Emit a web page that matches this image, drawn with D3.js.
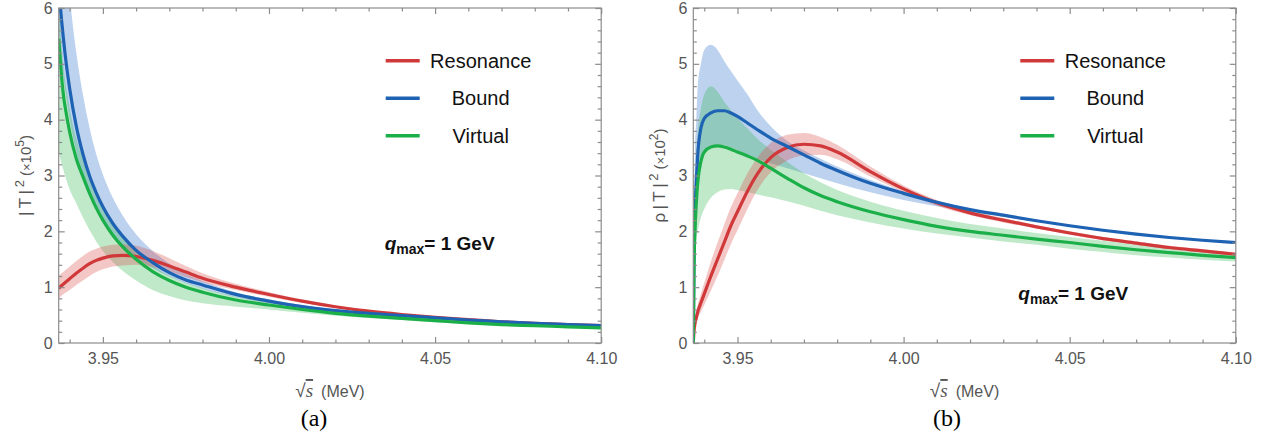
<!DOCTYPE html>
<html>
<head>
<meta charset="utf-8">
<script src="https://cdn.jsdelivr.net/npm/d3@7"></script>
<style>
  body { margin: 0; background: #fff; }
  svg { display: block; font-family: 'Liberation Sans', Arial, sans-serif; }
  .axis path { display: none; }
  .axis line { stroke: #8c8c8c; stroke-width: 1.2; }
  .axis text { fill: #555; font-size: 16px; font-family: 'Liberation Sans', Arial, sans-serif; }
</style>
</head>
<body>
<div id="chart"></div>
<script>
// sample points in sqrt(s) (GeV axis, labelled MeV in the original)
const sqrtS = [3.9367, 3.9369, 3.9372, 3.9376, 3.938, 3.939, 3.94, 3.942, 3.944, 3.946, 3.948, 3.95, 3.953, 3.956, 3.96, 3.965, 3.97, 3.975, 3.98, 3.99, 4.0, 4.01, 4.02, 4.03, 4.04, 4.05, 4.06, 4.07, 4.08, 4.09, 4.1];

// panel (a): |T|^2 (x10^5)
const aRes   = [0.98, 0.99, 1.01, 1.03, 1.05, 1.10, 1.15, 1.25, 1.34, 1.42, 1.48, 1.52, 1.56, 1.57, 1.55, 1.48, 1.38, 1.27, 1.16, 1.00, 0.87, 0.75, 0.65, 0.57, 0.51, 0.46, 0.42, 0.38, 0.35, 0.33, 0.31];
const aResLo = [0.80, 0.81, 0.83, 0.85, 0.87, 0.91, 0.95, 1.04, 1.12, 1.20, 1.27, 1.32, 1.37, 1.39, 1.40, 1.36, 1.28, 1.18, 1.09, 0.95, 0.83, 0.72, 0.63, 0.55, 0.495, 0.45, 0.41, 0.37, 0.34, 0.32, 0.30];
const aResHi = [1.20, 1.21, 1.23, 1.25, 1.27, 1.32, 1.37, 1.47, 1.56, 1.64, 1.69, 1.73, 1.76, 1.77, 1.74, 1.65, 1.52, 1.38, 1.25, 1.06, 0.91, 0.78, 0.67, 0.59, 0.525, 0.47, 0.43, 0.39, 0.36, 0.34, 0.32];
const aBnd   = [6.40, 6.24, 6.02, 5.76, 5.52, 4.99, 4.56, 3.88, 3.38, 2.99, 2.69, 2.44, 2.14, 1.91, 1.66, 1.44, 1.26, 1.13, 1.04, 0.87, 0.75, 0.65, 0.58, 0.53, 0.49, 0.45, 0.41, 0.38, 0.35, 0.33, 0.31];
const aBndLo = [5.60, 5.45, 5.25, 5.02, 4.82, 4.38, 4.00, 3.42, 3.00, 2.66, 2.40, 2.19, 1.93, 1.74, 1.53, 1.34, 1.19, 1.07, 0.97, 0.82, 0.71, 0.62, 0.56, 0.51, 0.46, 0.42, 0.39, 0.365, 0.345, 0.315, 0.30];
const aBndHi = [9.5, 9.2, 8.8, 8.3, 7.9, 7.0, 6.25, 5.2, 4.45, 3.85, 3.38, 3.02, 2.6, 2.28, 1.95, 1.65, 1.42, 1.24, 1.11, 0.91, 0.78, 0.68, 0.6, 0.545, 0.5, 0.46, 0.42, 0.385, 0.355, 0.335, 0.315];
const aVir   = [5.45, 5.28, 5.05, 4.75, 4.50, 4.10, 3.78, 3.30, 2.98, 2.68, 2.42, 2.20, 1.93, 1.72, 1.50, 1.28, 1.12, 1.00, 0.91, 0.77, 0.68, 0.60, 0.53, 0.48, 0.44, 0.40, 0.36, 0.33, 0.31, 0.29, 0.27];
const aVirLo = [3.45, 3.38, 3.30, 3.20, 3.12, 2.92, 2.75, 2.50, 2.25, 2.02, 1.82, 1.65, 1.45, 1.29, 1.12, 0.95, 0.84, 0.76, 0.71, 0.65, 0.60, 0.54, 0.49, 0.45, 0.41, 0.37, 0.34, 0.315, 0.295, 0.275, 0.26];
const aVirHi = [6.1, 5.9, 5.65, 5.3, 5.02, 4.57, 4.2, 3.66, 3.3, 2.96, 2.67, 2.42, 2.12, 1.88, 1.63, 1.39, 1.21, 1.08, 0.98, 0.83, 0.73, 0.64, 0.57, 0.51, 0.47, 0.42, 0.38, 0.35, 0.33, 0.31, 0.285];

// panel (b): rho|T|^2 (x10^2)
const bRes   = [0, 0.2, 0.35, 0.45, 0.55, 0.72, 0.88, 1.2, 1.5, 1.8, 2.1, 2.35, 2.72, 3.03, 3.32, 3.5, 3.56, 3.53, 3.42, 3.07, 2.76, 2.51, 2.33, 2.2, 2.08, 1.97, 1.87, 1.79, 1.71, 1.65, 1.59];
const bResLo = [0, 0.15, 0.27, 0.35, 0.43, 0.56, 0.68, 0.94, 1.2, 1.48, 1.77, 2.02, 2.4, 2.74, 3.06, 3.27, 3.36, 3.37, 3.29, 2.98, 2.70, 2.46, 2.29, 2.16, 2.05, 1.94, 1.84, 1.76, 1.68, 1.62, 1.56];
const bResHi = [0, 0.25, 0.43, 0.55, 0.67, 0.88, 1.08, 1.46, 1.8, 2.12, 2.43, 2.68, 3.04, 3.32, 3.58, 3.73, 3.76, 3.69, 3.55, 3.16, 2.82, 2.56, 2.37, 2.24, 2.11, 2.0, 1.9, 1.82, 1.74, 1.68, 1.62];
const bBnd   = [0, 1.5, 2.3, 2.9, 3.35, 3.85, 4.02, 4.12, 4.16, 4.16, 4.12, 4.06, 3.94, 3.82, 3.67, 3.52, 3.37, 3.22, 3.09, 2.86, 2.68, 2.52, 2.39, 2.29, 2.19, 2.10, 2.02, 1.95, 1.89, 1.84, 1.80];
const bBndLo = [0, 1.2, 1.9, 2.45, 2.85, 3.25, 3.42, 3.52, 3.55, 3.54, 3.5, 3.45, 3.37, 3.3, 3.22, 3.13, 3.04, 2.95, 2.86, 2.70, 2.56, 2.45, 2.35, 2.26, 2.17, 2.09, 2.01, 1.94, 1.88, 1.83, 1.79];
const bBndHi = [0, 2.2, 3.4, 4.0, 4.55, 5.0, 5.25, 5.34, 5.25, 5.05, 4.87, 4.7, 4.45, 4.17, 3.88, 3.62, 3.45, 3.3, 3.16, 2.92, 2.72, 2.55, 2.41, 2.30, 2.20, 2.11, 2.03, 1.96, 1.90, 1.85, 1.81];
const bVir   = [0, 1.3, 2.0, 2.5, 2.85, 3.25, 3.42, 3.51, 3.53, 3.51, 3.47, 3.42, 3.35, 3.27, 3.13, 2.95, 2.78, 2.64, 2.53, 2.35, 2.21, 2.09, 2.00, 1.93, 1.86, 1.80, 1.73, 1.67, 1.62, 1.57, 1.53];
const bVirLo = [0, 1.0, 1.6, 1.85, 2.0, 2.25, 2.4, 2.6, 2.7, 2.75, 2.76, 2.74, 2.70, 2.66, 2.61, 2.54, 2.46, 2.37, 2.29, 2.16, 2.05, 1.96, 1.89, 1.82, 1.76, 1.69, 1.63, 1.57, 1.53, 1.49, 1.46];
const bVirHi = [0, 1.8, 2.6, 3.2, 3.7, 4.2, 4.45, 4.6, 4.5, 4.32, 4.17, 4.03, 3.84, 3.66, 3.46, 3.24, 3.04, 2.88, 2.74, 2.53, 2.37, 2.24, 2.13, 2.05, 1.97, 1.9, 1.83, 1.76, 1.70, 1.65, 1.61];

const seriesNames = ['Resonance', 'Bound', 'Virtual'];
const xMajor = [3.95, 4.00, 4.05, 4.10];
const xMinor = [3.94, 3.96, 3.97, 3.98, 3.99, 4.01, 4.02, 4.03, 4.04, 4.06, 4.07, 4.08, 4.09];
const yMajor = [0, 1, 2, 3, 4, 5, 6];
const yMinor = d3.range(0, 6.01, 0.2).filter(v => Math.abs(v - Math.round(v)) > 0.01);

const lineColours = ['#d0383a', '#1d62b3', '#1aaf48'];
const bandColours = ['#d94545', '#3f7fcf', '#2db54f'];
const bandOpacity = [0.3, 0.35, 0.3];

const svg = d3.select('#chart').append('svg')
    .attr('width', 1270)
    .attr('height', 445);

let drawPanel = (opts) => {
  const pw = 542.5, ph = 335;
  const g = svg.append('g').attr('transform', 'translate(' + opts.left + ',8)');

  var x = d3.scaleLinear().domain([3.9367, 4.10]).range([0, pw]);
  var y = d3.scaleLinear().domain([0, 6]).range([ph, 0]);

  g.append('clipPath').attr('id', 'clip-' + opts.id)
    .append('rect').attr('width', pw).attr('height', ph);

  const plot = g.append('g').attr('clip-path', 'url(#clip-' + opts.id + ')');

  const area = d3.area()
      .x((d, i) => x(sqrtS[i]))
      .y0(d => y(d[0]))
      .y1(d => y(d[1]))
      .curve(d3.curveMonotoneX);
  const line = d3.line()
      .x((d, i) => x(sqrtS[i]))
      .y(d => y(d))
      .curve(d3.curveMonotoneX);

  // bands: bound first, then virtual, then resonance
  [1, 2, 0].forEach(k => {
    const s = opts.series[k];
    plot.append('path')
      .datum(s.lo.map((v, i) => [v, s.hi[i]]))
      .attr('d', area)
      .attr('fill', bandColours[k])
      .attr('fill-opacity', bandOpacity[k]);
  });

  opts.series.forEach((s, k) => {
    plot.append('path')
      .datum(s.mid)
      .attr('d', line)
      .attr('fill', 'none')
      .attr('stroke', lineColours[k])
      .attr('stroke-width', 3.2);
  });

  // frame
  g.append('rect')
    .attr('width', pw).attr('height', ph)
    .attr('fill', 'none').attr('stroke', '#8c8c8c').attr('stroke-width', 1.2);

  const fmt = d3.format('.2f');
  g.append('g').attr('class', 'axis').attr('transform', 'translate(0,' + ph + ')')
    .call(d3.axisBottom(x).tickValues(xMajor).tickSize(-6).tickSizeOuter(0).tickPadding(10).tickFormat(fmt));
  g.append('g').attr('class', 'axis').attr('transform', 'translate(0,' + ph + ')')
    .call(d3.axisBottom(x).tickValues(xMinor).tickSize(-3.5).tickSizeOuter(0).tickFormat(''));
  g.append('g').attr('class', 'axis')
    .call(d3.axisTop(x).tickValues(xMajor).tickSize(-6).tickSizeOuter(0).tickFormat(''));
  g.append('g').attr('class', 'axis')
    .call(d3.axisTop(x).tickValues(xMinor).tickSize(-3.5).tickSizeOuter(0).tickFormat(''));

  g.append('g').attr('class', 'axis')
    .call(d3.axisLeft(y).tickValues(yMajor).tickSize(-6).tickSizeOuter(0).tickPadding(6).tickFormat(d3.format('d')));
  g.append('g').attr('class', 'axis')
    .call(d3.axisLeft(y).tickValues(yMinor).tickSize(-3.5).tickSizeOuter(0).tickFormat(''));
  g.append('g').attr('class', 'axis').attr('transform', 'translate(' + pw + ',0)')
    .call(d3.axisRight(y).tickValues(yMajor).tickSize(-6).tickSizeOuter(0).tickFormat(''));
  g.append('g').attr('class', 'axis').attr('transform', 'translate(' + pw + ',0)')
    .call(d3.axisRight(y).tickValues(yMinor).tickSize(-3.5).tickSizeOuter(0).tickFormat(''));

  // y label
  const yl = g.append('text')
    .attr('transform', 'translate(-28,' + (ph / 2) + ') rotate(-90)')
    .attr('text-anchor', 'middle')
    .attr('fill', '#555')
    .attr('font-size', '17px');
  yl.append('tspan').text(opts.yPrefix + '|\u2009T\u2009|');
  yl.append('tspan').attr('dy', -7).attr('font-size', '13px').text('\u20092');
  yl.append('tspan').attr('dy', 7).attr('font-size', '15px').text(' (');
  yl.append('tspan').attr('font-size', '13px').text('\u00d7');
  yl.append('tspan').attr('font-size', '15px').text('10');
  yl.append('tspan').attr('dy', -7).attr('font-size', '12px').text(opts.yPow);
  yl.append('tspan').attr('dy', 7).attr('font-size', '15px').text(')');

  // x label
  const xl = g.append('text')
    .attr('x', pw / 2).attr('y', 389)
    .attr('text-anchor', 'middle')
    .attr('fill', '#555')
    .attr('font-size', '16px');
  xl.append('tspan').attr('font-size', '19px').text('\u221a');
  xl.append('tspan').attr('font-style', 'italic').attr('text-decoration', 'overline')
    .attr('font-family', "'Liberation Serif', serif").attr('font-size', '19px').text('s');
  xl.append('tspan').text('\u2002(MeV)');

  // legend
  seriesNames.forEach((name, k) => {
    const ly = 52.7 + k * 37.5;
    g.append('line')
      .attr('x1', 327).attr('x2', 361).attr('y1', ly).attr('y2', ly)
      .attr('stroke', lineColours[k]).attr('stroke-width', 3.5);
    g.append('text')
      .attr('x', 422).attr('y', ly + 7)
      .attr('text-anchor', 'middle')
      .attr('font-size', '20px')
      .attr('fill', '#111')
      .text(name);
  });

  // q_max note
  const q = g.append('text')
    .attr('x', opts.qx).attr('y', opts.qy)
    .attr('font-size', '19px').attr('font-weight', 'bold').attr('fill', '#111');
  q.append('tspan').attr('font-style', 'italic').text('q');
  q.append('tspan').attr('font-size', '14px').attr('dy', 4).text('max');
  q.append('tspan').attr('dy', -4).text('= 1 GeV');

  // panel tag
  svg.append('text')
    .attr('x', opts.tagX).attr('y', 426)
    .attr('text-anchor', 'middle')
    .attr('font-family', "'Liberation Serif', 'Times New Roman', serif")
    .attr('font-size', '24px')
    .attr('fill', '#000')
    .text(opts.tag);
};

drawPanel({
  id: 'a', left: 58.7, yPrefix: '', yPow: '5', qx: 326, qy: 242, tagX: 314, tag: '(a)',
  series: [
    {mid: aRes, lo: aResLo, hi: aResHi},
    {mid: aBnd, lo: aBndLo, hi: aBndHi},
    {mid: aVir, lo: aVirLo, hi: aVirHi}
  ]
});

drawPanel({
  id: 'b', left: 693.3, yPrefix: '\u03c1\u2009', yPow: '2', qx: 325, qy: 292, tagX: 947, tag: '(b)',
  series: [
    {mid: bRes, lo: bResLo, hi: bResHi},
    {mid: bBnd, lo: bBndLo, hi: bBndHi},
    {mid: bVir, lo: bVirLo, hi: bVirHi}
  ]
});
</script>
</body>
</html>
